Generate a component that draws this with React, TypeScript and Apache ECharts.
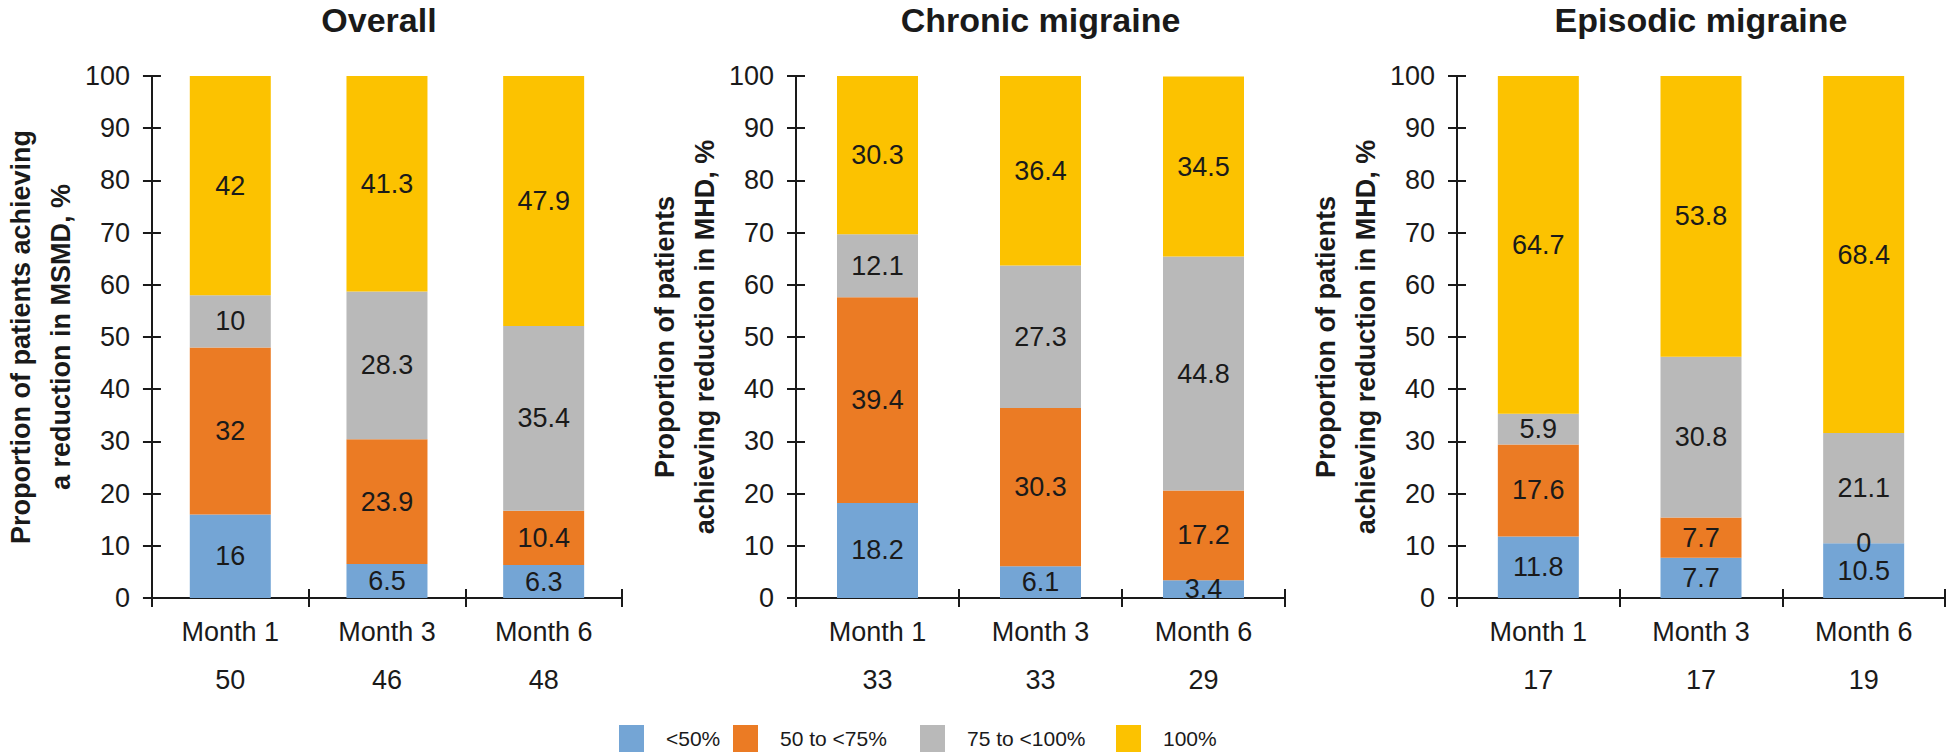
import React, { useEffect, useRef } from "react";
import * as echarts from "echarts";

const categories = ["Month 1", "Month 3", "Month 6"];
const panelTitles = ["Overall", "Chronic migraine", "Episodic migraine"];
const yAxisNames = [
  "Proportion of patients achieving\na reduction in MSMD, %",
  "Proportion of patients\nachieving reduction in MHD, %",
  "Proportion of patients\nachieving reduction in MHD, %",
];
const nOverall = [50, 46, 48];
const nChronic = [33, 33, 29];
const nEpisodic = [17, 17, 19];
const seriesNames = ["<50%", "50 to <75%", "75 to <100%", "100%"];

const overallLt50 = [16, 6.5, 6.3];
const overall50to75 = [32, 23.9, 10.4];
const overall75to100 = [10, 28.3, 35.4];
const overall100 = [42, 41.3, 47.9];

const chronicLt50 = [18.2, 6.1, 3.4];
const chronic50to75 = [39.4, 30.3, 17.2];
const chronic75to100 = [12.1, 27.3, 44.8];
const chronic100 = [30.3, 36.4, 34.5];

const episodicLt50 = [11.8, 7.7, 10.5];
const episodic50to75 = [17.6, 7.7, 0];
const episodic75to100 = [5.9, 30.8, 21.1];
const episodic100 = [64.7, 53.8, 68.4];

const yMin = 0;
const yMax = 100;
const yInterval = 10;

const COLORS = ["#74A5D5", "#EB7B24", "#B9B9B9", "#FCC200"];
const FONT = "'Liberation Sans Narrow', 'Arial Narrow', 'Liberation Sans', Arial, sans-serif";
const INK = "#1a1a1a";

const panels = [
  { n: nOverall, data: [overallLt50, overall50to75, overall75to100, overall100] },
  { n: nChronic, data: [chronicLt50, chronic50to75, chronic75to100, chronic100] },
  { n: nEpisodic, data: [episodicLt50, episodic50to75, episodic75to100, episodic100] },
];

const gridLefts = [136, 796, 1457];
const gridWidths = [486, 489, 488];
const gridTop = 76;
const gridHeight = 522;
const legendLefts = [619, 733, 920, 1116];

export default function App() {
  const ref = useRef<HTMLDivElement>(null);
  useEffect(() => {
    if (!ref.current) return;
    const chart = echarts.init(ref.current, null, { renderer: "svg" });

    const grid: any[] = [];
    const xAxis: any[] = [];
    const yAxis: any[] = [];
    const series: any[] = [];
    const title: any[] = [];

    panels.forEach((p, i) => {
      grid.push({ left: gridLefts[i], top: gridTop, width: gridWidths[i], height: gridHeight, containLabel: false });
      const labels = categories.map((c, k) => `${c}\n${p.n[k]}`);
      xAxis.push({
        type: "category",
        gridIndex: i,
        position: "bottom",
        data: labels,
        axisLine: { show: true, lineStyle: { color: INK, width: 2 } },
        axisTick: { show: true, length: 9, lineStyle: { color: INK, width: 2 } },
        axisLabel: { color: INK, fontFamily: FONT, fontSize: 27, lineHeight: 48, margin: 10 },
        splitLine: { show: false },
      });
      xAxis.push({
        type: "category",
        gridIndex: i,
        position: "bottom",
        data: labels,
        axisLine: { show: false },
        axisTick: { show: true, inside: true, length: 9, lineStyle: { color: INK, width: 2 } },
        axisLabel: { show: false },
        splitLine: { show: false },
      });
      yAxis.push({
        type: "value",
        gridIndex: i,
        position: "left",
        min: yMin,
        max: yMax,
        interval: yInterval,
        name: yAxisNames[i],
        nameLocation: "middle",
        nameGap: 70,
        nameRotate: 90,
        nameTextStyle: { color: INK, fontFamily: FONT, fontSize: 27, fontWeight: "bold", lineHeight: 40 },
        axisLine: { show: true, lineStyle: { color: INK, width: 2 } },
        axisTick: { show: true, length: 9, lineStyle: { color: INK, width: 2 } },
        axisLabel: { color: INK, fontFamily: FONT, fontSize: 27, margin: 22 },
        splitLine: { show: false },
      });
      yAxis.push({
        type: "value",
        gridIndex: i,
        position: "left",
        min: yMin,
        max: yMax,
        interval: yInterval,
        axisLine: { show: false },
        axisTick: { show: true, inside: true, length: 9, lineStyle: { color: INK, width: 2 } },
        axisLabel: { show: false },
        splitLine: { show: false },
      });
      title.push({
        text: panelTitles[i],
        left: gridLefts[i] + gridWidths[i] / 2,
        top: 3,
        padding: 0,
        textAlign: "center",
        textStyle: { color: INK, fontFamily: FONT, fontSize: 34, fontWeight: "bold" },
      });
      p.data.forEach((vals, s) => {
        series.push({
          type: "bar",
          name: seriesNames[s],
          xAxisIndex: 2 * i,
          yAxisIndex: 2 * i,
          stack: "g" + i,
          barWidth: 81,
          data: vals,
          itemStyle: { color: COLORS[s] },
          label: {
            show: true,
            position: "inside",
            color: INK,
            fontFamily: FONT,
            fontSize: 27,
            formatter: (prm: any) => String(prm.value),
          },
        });
      });
    });

    const legend = seriesNames.map((nm, k) => ({
      data: [nm],
      left: legendLefts[k],
      top: 725,
      padding: 0,
      itemWidth: 25,
      itemHeight: 27,
      icon: "rect",
      selectedMode: false,
      textStyle: { color: INK, fontFamily: FONT, fontSize: 21, padding: [0, 0, 0, 17] },
    }));

    chart.setOption({
      animation: false,
      backgroundColor: "#ffffff",
      title,
      grid,
      xAxis,
      yAxis,
      series,
      legend,
    });
    return () => chart.dispose();
  }, []);
  return (
    <div
      ref={ref}
      style={{ position: "fixed", left: 0, top: 0, width: 1952, height: 752 }}
    />
  );
}
